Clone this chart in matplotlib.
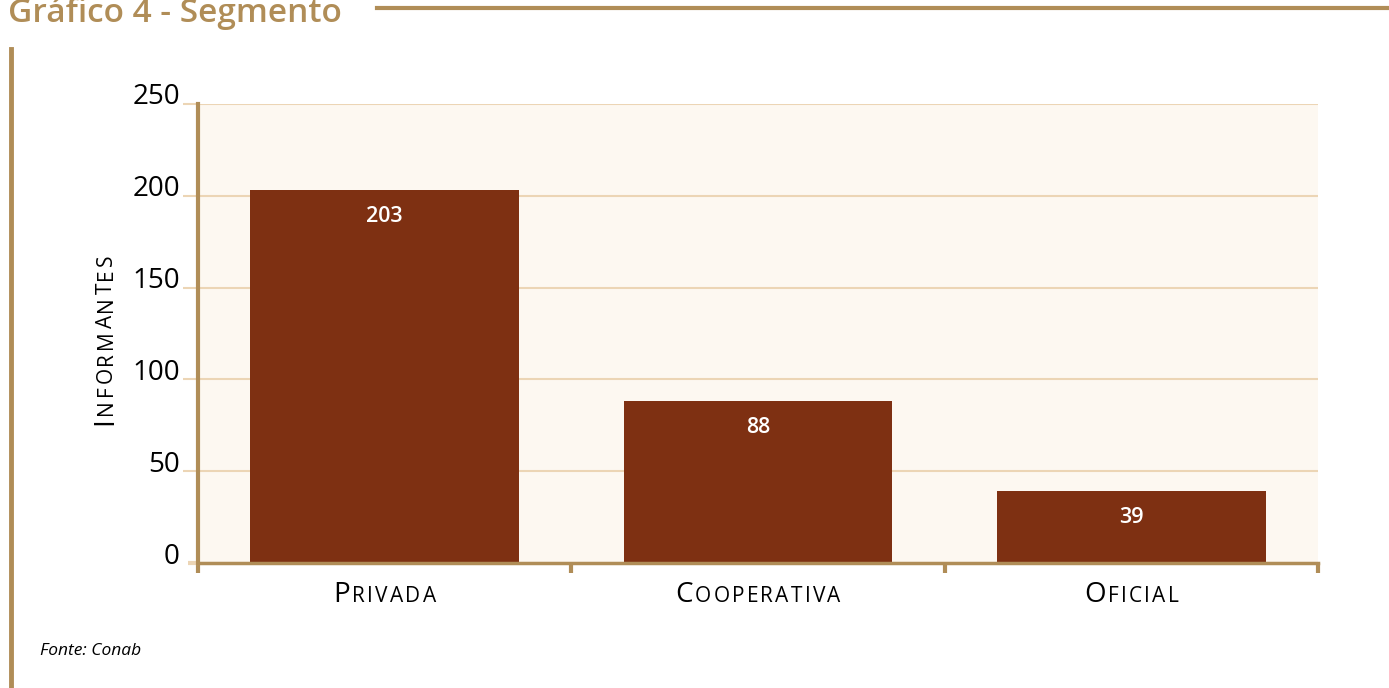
import matplotlib
matplotlib.use("Agg")
import matplotlib.pyplot as plt
from matplotlib.offsetbox import TextArea, HPacker, AnnotationBbox
from matplotlib.transforms import ScaledTranslation

categories = ["Privada", "Cooperativa", "Oficial"]
values = [203, 88, 39]
yticks = [0, 50, 100, 150, 200, 250]

GOLD = "#b08d57"
GRID = "#ecd5b5"
BAR = "#7e3012"
BG = "#fdf8f1"
FONT = "Open Sans"

plt.rcParams["font.family"] = [FONT, "DejaVu Sans"]

fig = plt.figure(figsize=(13.89, 6.88), dpi=100)
ax = fig.add_axes([198 / 1389, 125 / 688, 1120 / 1389, 459 / 688])
ax.set_facecolor(BG)

x = range(len(categories))
ax.bar(x, values, width=0.72, color=BAR, zorder=3)
for xi, v in zip(x, values):
    ax.annotate(str(v), (xi, v), xytext=(0, -19), textcoords="offset points",
                ha="center", va="center", color="white", fontsize=15.5,
                fontweight="semibold", zorder=4)

ax.set_xlim(-0.5, len(categories) - 0.5)
ax.set_ylim(0, 250)
ax.set_yticks(yticks)
ax.yaxis.grid(True, color=GRID, linewidth=1.5, zorder=0)
ax.set_axisbelow(True)

for side in ("top", "right"):
    ax.spines[side].set_visible(False)
ax.spines["left"].set_color(GOLD)
ax.spines["left"].set_linewidth(3)
ax.spines["bottom"].set_color(GOLD)
ax.spines["bottom"].set_linewidth(2.5)
ax.spines["bottom"].set_zorder(5)

ax.tick_params(axis="y", length=11, width=1.5, color=GRID, pad=2,
               labelsize=20, labelcolor="black")
zero_tick = ax.yaxis.get_major_ticks()[0]
zero_tick.tick1line.set_color(GOLD)
zero_tick.tick1line.set_markersize(7)
zero_tick.tick1line.set_markeredgewidth(3)
shift = ScaledTranslation(0, 10 / 100, fig.dpi_scale_trans)
for lab in ax.get_yticklabels():
    lab.set_transform(lab.get_transform() + shift)

bounds = [i - 0.5 for i in range(len(categories) + 1)]
ax.set_xticks(bounds)
ax.set_xticklabels([])
ax.tick_params(axis="x", length=7, width=3, color=GOLD)


def small_caps_letters(word):
    return [(word[0], 20)] + [(c.upper(), 15) for c in word[1:]]


# small-caps category labels, letter-spaced
for xi, name in zip(x, categories):
    box = HPacker(children=[TextArea(c, textprops=dict(size=s, color="black"))
                            for c, s in small_caps_letters(name)],
                  align="baseline", pad=0, sep=1.6)
    ab = AnnotationBbox(box, (xi, 0), xycoords=("data", "axes fraction"),
                        xybox=(0, -23), boxcoords="offset points",
                        frameon=False, box_alignment=(0.5, 0.5))
    ax.add_artist(ab)

# small-caps y label, letter-spaced, reading upwards
fig.canvas.draw()
ypos = 263
for c, s in small_caps_letters("Informantes"):
    t = fig.text(112 / 1389, ypos / 688, c, rotation=90, rotation_mode="anchor",
                 ha="left", va="baseline", fontsize=s)
    fig.canvas.draw()
    ypos = t.get_window_extent().y1 + 2.5

# frame decorations
fig.text(8 / 1389, 1 - 22 / 688, "Gráfico 4 - Segmento", color=GOLD,
         fontsize=24, fontweight="semibold", ha="left", va="baseline")
fig.add_artist(plt.Line2D([377 / 1389, 1], [1 - 8 / 688] * 2, color=GOLD,
                          linewidth=3, transform=fig.transFigure))
fig.add_artist(plt.Line2D([11 / 1389] * 2, [0, 1 - 49 / 688], color=GOLD,
                          linewidth=3.5, transform=fig.transFigure))
fig.text(40 / 1389, 1 - 655 / 688, "Fonte: Conab", fontsize=12.5, style="italic",
         ha="left", va="baseline")

fig.savefig("out.png", dpi=100)
